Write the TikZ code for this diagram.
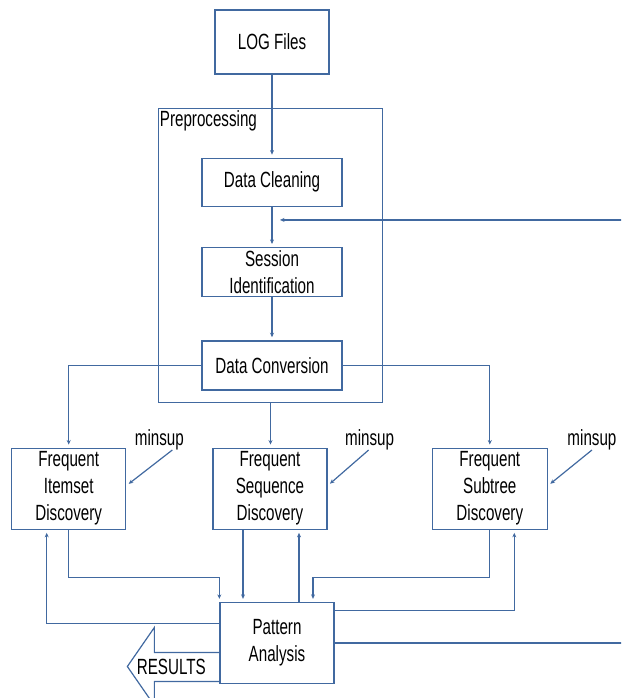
\documentclass[tikz,border=0pt]{standalone}
\usepackage{fontspec}
\setmainfont{Liberation Sans}[FakeStretch=0.69]
\usetikzlibrary{arrows.meta, positioning, fit}
\definecolor{linkblue}{RGB}{65,105,160}

\begin{document}
\begin{tikzpicture}[
    x=1pt, y=1pt,
    font=\fontsize{22}{27}\selectfont,
    block/.style={rectangle, draw=linkblue, line width=1.3pt, fill=white, align=center, inner sep=2pt, minimum width=114pt, minimum height=81pt},
    stage/.style={block, minimum width=140pt, minimum height=48pt},
    frame/.style={rectangle, draw=linkblue, line width=1.3pt, inner sep=0pt},
    param/.style={inner sep=0pt},
    line/.style={draw=linkblue, line width=1.2pt, -{Stealth[length=4.5pt,width=4pt]}, shorten >=3pt},
    outline/.style={draw=linkblue, line width=1.2pt, line join=miter}
]
    \clip (0,0) rectangle (621,698);

    % --- PREPROCESSING ---
    \node [block, minimum height=64pt] (logs) at (272,656) {LOG Files};
    \node [stage, below=83pt of logs] (cleaning) {Data Cleaning};
    \node [stage, minimum height=49pt, below=40pt of cleaning] (session) {Session\\Identification};
    \node [stage, minimum height=49pt, below=43pt of session] (conversion) {Data Conversion};
    \coordinate (prep_nw) at ([xshift=-43pt,yshift=49pt]cleaning.north west);
    \coordinate (prep_se) at ([xshift=40pt,yshift=-12pt]conversion.south east);
    \node [frame, fit=(prep_nw) (prep_se), label={[anchor=north west, inner sep=2pt]north west:Preprocessing}] (prep) {};

    % --- DISCOVERY ---
    \node [block, below=57pt of conversion, xshift=-2pt] (sequence) {Frequent\\Sequence\\Discovery};
    \node [block, left=86pt of sequence] (itemset) {Frequent\\Itemset\\Discovery};
    \node [block, right=104pt of sequence, minimum width=115pt] (subtree) {Frequent\\Subtree\\Discovery};
    \node [block, below=72pt of sequence, xshift=7pt] (pattern) {Pattern\\Analysis};

    \node [param] (msA) at ([xshift=33pt,yshift=8pt]itemset.north east) {minsup};
    \node [param] (msB) at ([xshift=42pt,yshift=8pt]sequence.north east) {minsup};
    \node [param] (msC) at ([xshift=44pt,yshift=8pt]subtree.north east) {minsup};

    \coordinate (fbin) at ([xshift=5pt,yshift=-13pt]cleaning.south);

    % --- RESULTS ---
    \draw [outline] ([yshift=-9.5pt]pattern.west) -- ++(-65pt,0) -- ++(0,25pt) -- ++(-27pt,-39pt)
        -- ++(27pt,-39pt) -- ++(0,24pt) -- ([yshift=-38.5pt]pattern.west);
    \node [param] (results) at ([xshift=-48pt,yshift=-23.5pt]pattern.west) {RESULTS};

    % --- PATH CONNECTIONS ---
    \path [line] (logs) -- (cleaning);
    \path [line] (cleaning) -- (session);
    \path [line] (session) -- (conversion);
    \path [line] (conversion.west) -| (itemset.north);
    \path [line] (conversion.east) -| (subtree.north);
    \path [line] (prep.south) -- (prep.south |- sequence.north);

    \path [line] ([xshift=13pt]msA.south) -- ([yshift=3pt]itemset.east);
    \path [line] ([xshift=-1pt]msB.south) -- ([yshift=3pt]sequence.east);
    \path [line] (msC.south) -- ([yshift=3pt]subtree.east);

    \path [line] (itemset.south) -- ++(0,-48pt) -| (pattern.north west);
    \path [line] ([xshift=-27pt]sequence.south) -- ([xshift=-27pt]sequence.south |- pattern.north);
    \path [line] ([xshift=29pt]sequence.south |- pattern.north) -- ([xshift=29pt]sequence.south);
    \path [line] (subtree.south) -- ++(0,-48pt) -| ([xshift=36pt]pattern.north);
    \path [line] ([yshift=32.5pt]pattern.east) -| ([xshift=24.5pt]subtree.south);
    \path [line] ([yshift=19.5pt]pattern.west) -| ([xshift=-22pt]itemset.south);

    \path [line] (pattern.east) -- ++(300pt,0) |- (fbin);

\end{tikzpicture}
\end{document}
